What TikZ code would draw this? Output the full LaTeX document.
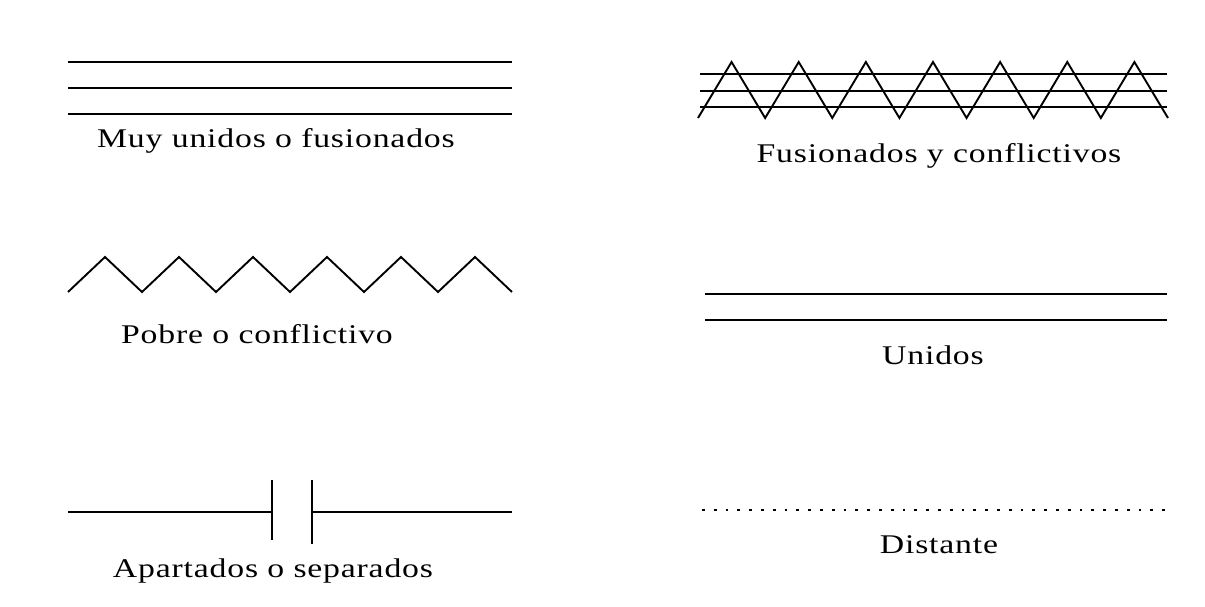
\documentclass[tikz,border=0pt]{standalone}
\usepackage{fontspec}
\setmainfont[FakeStretch=1.25, LetterSpace=3]{Liberation Serif}
\usepackage{tikz}
\usetikzlibrary{positioning}

\begin{document}
\begin{tikzpicture}[
    x=1pt, y=-1pt,
    rel/.style={draw=black, line width=1.6pt},
    zig/.style={draw=black, line width=1.9pt, line join=miter},
    distline/.style={draw=black, line width=2.8pt, dash pattern=on 2.8pt off 9pt},
    lbl/.style={font=\fontsize{27}{31}\selectfont, inner sep=0pt, anchor=base}
]
\useasboundingbox (0,0) rectangle (1205,607);

% Muy unidos o fusionados
\draw[rel] (68,62) -- (512,62);
\draw[rel] (68,88) -- (512,88);
\draw[rel] (68,114) -- (512,114);
\node[lbl] (fusion) at (276,148) {Muy unidos o fusionados};

% Fusionados y conflictivos
\draw[rel] (700,74) -- (1167,74);
\draw[rel] (700,91) -- (1167,91);
\draw[rel] (700,107) -- (1167,107);
\draw[zig] (698,118) \foreach \i in {1,...,7} { -- ++(33.57,-56) -- ++(33.57,56) };
\node[lbl] (fusconf) at (939,163) {Fusionados y conflictivos};

% Pobre o conflictivo
\draw[zig] (68,292) \foreach \i in {1,...,6} { -- ++(37,-35) -- ++(37,35) };
\node[lbl] (pobre) at (257,343) {Pobre o conflictivo};

% Unidos
\draw[rel] (705,294) -- (1167,294);
\draw[rel] (705,320) -- (1167,320);
\node[lbl] (unidos) at (933,364) {Unidos};

% Apartados o separados
\coordinate (capL) at (272,512);
\coordinate (capR) at (312,512);
\draw[rel] (68,512) -- (capL);
\draw[rel] (capR) -- (512,512);
\draw[rel] (272,480) -- (272,540);
\draw[rel] (312,480) -- (312,544);
\node[lbl] (apart) at (273,577) {Apartados o separados};

% Distante
\draw[distline] (702,510) -- (1172,510);
\node[lbl] (dist) at (939,553) {Distante};

\end{tikzpicture}
\end{document}
